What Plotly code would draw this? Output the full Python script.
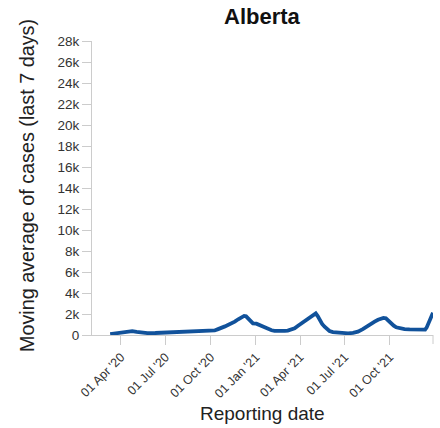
import plotly.graph_objects as go

# Data (7-day moving average of cases, Alberta)
dates = [
    "2020-03-10", "2020-03-20", "2020-04-01", "2020-04-12", "2020-04-24", "2020-05-03",
    "2020-05-12", "2020-05-25", "2020-06-10", "2020-06-25", "2020-07-10", "2020-07-27",
    "2020-08-10", "2020-08-25", "2020-09-07", "2020-09-21", "2020-10-01", "2020-10-09",
    "2020-10-16", "2020-10-23", "2020-10-30", "2020-11-05", "2020-11-12", "2020-11-19",
    "2020-11-26", "2020-12-02", "2020-12-08", "2020-12-12", "2020-12-16", "2020-12-21",
    "2020-12-26", "2021-01-02", "2021-01-06", "2021-01-12", "2021-01-19", "2021-01-26",
    "2021-02-02", "2021-02-08", "2021-02-15", "2021-02-22", "2021-03-01", "2021-03-07",
    "2021-03-14", "2021-03-21", "2021-03-28", "2021-04-04", "2021-04-10", "2021-04-17",
    "2021-04-24", "2021-04-29", "2021-05-03", "2021-05-07", "2021-05-11", "2021-05-16",
    "2021-05-21", "2021-05-26", "2021-05-31", "2021-06-07", "2021-06-18", "2021-06-28",
    "2021-07-08", "2021-07-18", "2021-07-28", "2021-08-07", "2021-08-17", "2021-08-24",
    "2021-08-31", "2021-09-07", "2021-09-13", "2021-09-18", "2021-09-23", "2021-09-28",
    "2021-10-04", "2021-10-09", "2021-10-14", "2021-10-22", "2021-10-31", "2021-11-10",
    "2021-11-20", "2021-11-30", "2021-12-08", "2021-12-12", "2021-12-15", "2021-12-18",
    "2021-12-21", "2021-12-24", "2021-12-28",
]
cases = [
    90, 130, 190, 280, 360, 290,
    230, 180, 190, 210, 230, 250,
    260, 290, 300, 370, 390, 430,
    560, 650, 820, 950, 1100, 1270,
    1500, 1700, 1820, 1780, 1590, 1330,
    1110, 1080, 1000, 790, 660, 550,
    450, 400, 380, 380, 390, 420,
    500, 640, 880, 1110, 1320, 1520,
    1700, 1850, 2060, 1800, 1430, 1060,
    790, 540, 380, 280, 220, 180,
    160, 200, 320, 560, 890, 1080,
    1270, 1450, 1590, 1620, 1590, 1330,
    1110, 890, 730, 620, 570, 530,
    510, 490, 480, 520, 700, 1000,
    1430, 1800, 2120,
]

y_tick_vals = [0, 2000, 4000, 6000, 8000, 10000, 12000, 14000, 16000, 18000,
               20000, 22000, 24000, 26000, 28000]
y_tick_text = ["0", "2k", "4k", "6k", "8k", "10k", "12k", "14k", "16k", "18k",
               "20k", "22k", "24k", "26k", "28k"]
x_tick_vals = ["2020-04-01", "2020-07-01", "2020-10-01", "2021-01-01",
               "2021-04-01", "2021-07-01", "2021-10-01"]
x_tick_text = ["01 Apr '20", "01 Jul '20", "01 Oct '20", "01 Jan '21",
               "01 Apr '21", "01 Jul '21", "01 Oct '21"]

title_text = "Alberta"
x_title = "Reporting date"
y_title = "Moving average of cases (last 7 days)"

FONT = "Liberation Sans, Arial, sans-serif"
AXIS_GREY = "#cccccc"

fig = go.Figure()
fig.add_trace(go.Scatter(
    x=dates, y=cases, mode="lines",
    line=dict(color="#11529b", width=3.8),
    cliponaxis=False, hoverinfo="skip", showlegend=False,
))

fig.update_layout(
    width=440, height=428,
    margin=dict(l=92, r=7, t=41, b=93),
    paper_bgcolor="white", plot_bgcolor="white",
    font=dict(family=FONT, color="#333333"),
    showlegend=False,
    hovermode=False,
    xaxis=dict(
        type="date", range=["2020-02-02", "2021-12-28"],
        tickvals=x_tick_vals, ticktext=x_tick_text, tickangle=-45,
        tickfont=dict(size=12.5, color="#333333"),
        showgrid=False, zeroline=False,
        showline=True, linecolor=AXIS_GREY, linewidth=1,
        ticks="outside", ticklen=9, tickcolor=AXIS_GREY, tickwidth=1,
    ),
    yaxis=dict(
        range=[0, 28000],
        tickvals=y_tick_vals, ticktext=y_tick_text,
        tickfont=dict(size=13.5, color="#333333"),
        showgrid=False, zeroline=False,
        showline=True, linecolor=AXIS_GREY, linewidth=1,
        ticks="outside", ticklen=9, tickcolor=AXIS_GREY, tickwidth=1,
    ),
    annotations=[
        dict(text="<b>" + title_text + "</b>", xref="paper", yref="paper",
             x=0.5, y=(335 - 17) / 294, xanchor="center", yanchor="middle",
             showarrow=False, font=dict(size=22, color="#111111", family=FONT)),
        dict(text=x_title, xref="paper", yref="paper",
             x=0.5, y=(335 - 413) / 294, xanchor="center", yanchor="middle",
             showarrow=False, font=dict(size=19, color="#222222", family=FONT)),
        dict(text=y_title, xref="paper", yref="paper", textangle=-90,
             x=(27 - 92) / 341.3, y=(335 - 186) / 294, xanchor="center", yanchor="middle",
             showarrow=False, font=dict(size=19.8, color="#222222", family=FONT)),
    ],
    shapes=[
        dict(type="line", xref="paper", yref="paper", ysizemode="pixel", yanchor=0,
             x0=1, x1=1, y0=0, y1=-9, line=dict(color=AXIS_GREY, width=1)),
    ],
)

fig.write_html(
    "out.html",
    config={"displayModeBar": False, "staticPlot": True},
    post_script="document.body.style.margin='0';document.body.style.padding='0';"
                "document.documentElement.style.overflow='hidden';",
)
